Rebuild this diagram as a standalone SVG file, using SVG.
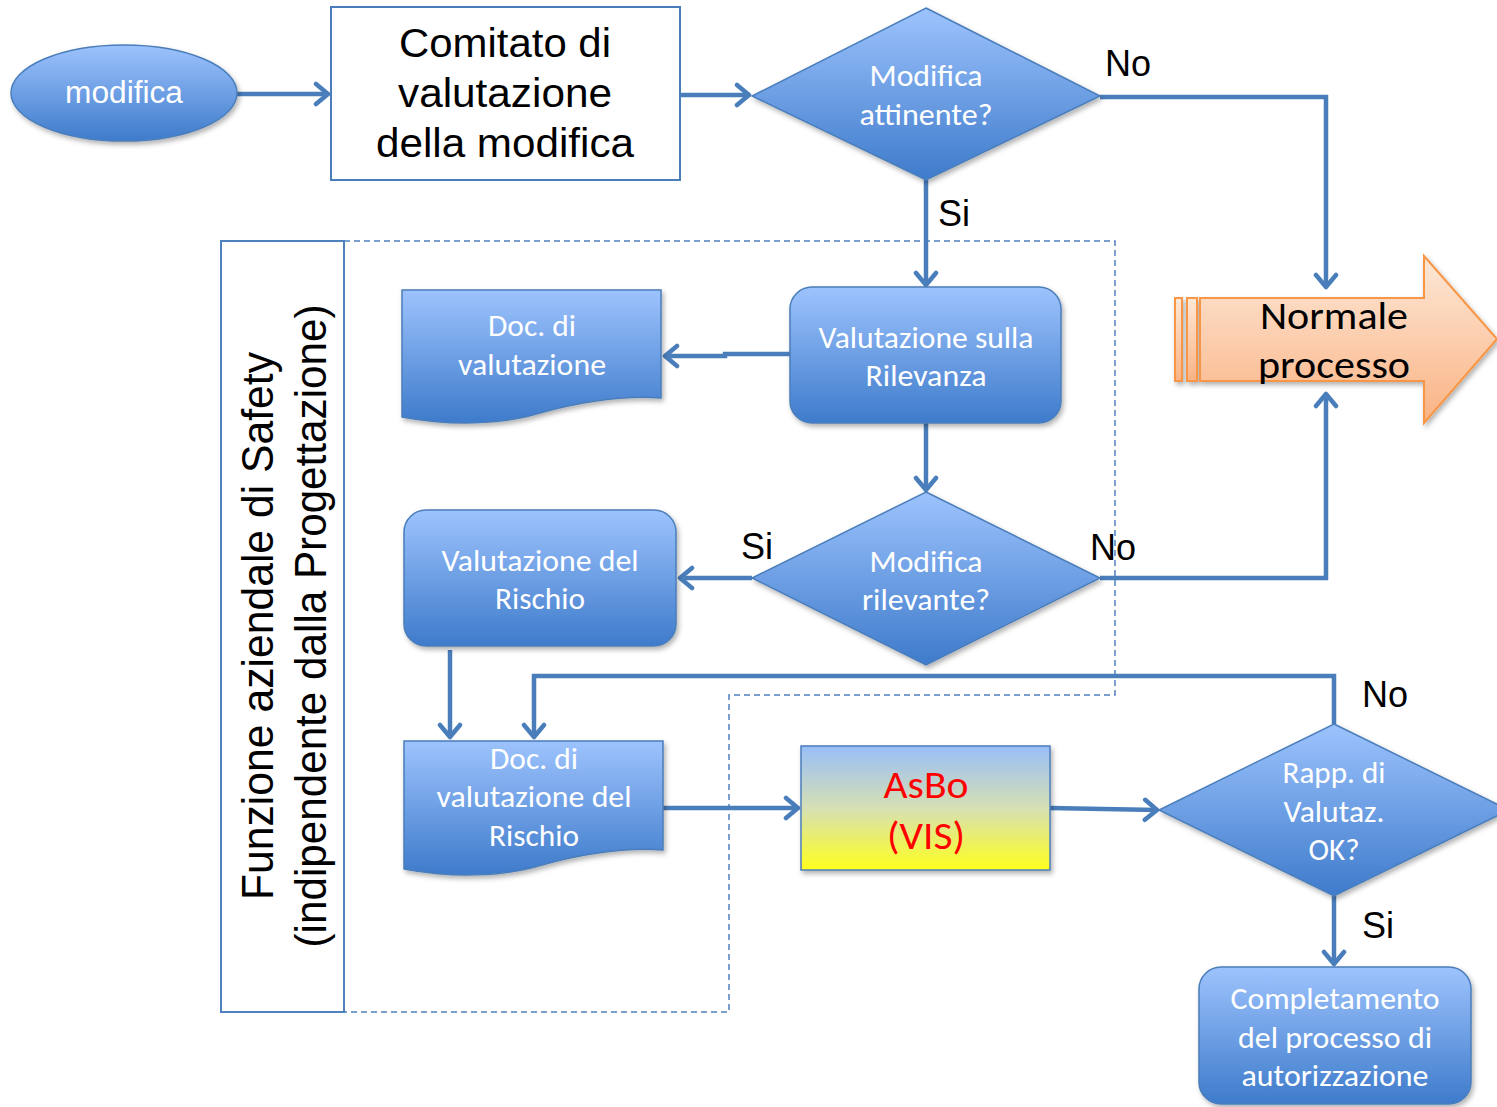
<svg xmlns="http://www.w3.org/2000/svg" width="1497" height="1107" viewBox="0 0 1497 1107">
<defs>
  <linearGradient id="blue" x1="0" y1="0" x2="0" y2="1">
    <stop offset="0" stop-color="#9dc3fd"/>
    <stop offset="1" stop-color="#3e7bcb"/>
  </linearGradient>
  <linearGradient id="asbo" x1="0" y1="0" x2="0" y2="1">
    <stop offset="0" stop-color="#98bef8"/>
    <stop offset="0.5" stop-color="#d6e0b4"/>
    <stop offset="1" stop-color="#ffff1e"/>
  </linearGradient>
  <linearGradient id="orange" x1="0" y1="0" x2="0" y2="1">
    <stop offset="0" stop-color="#fde8d7"/>
    <stop offset="1" stop-color="#fab384"/>
  </linearGradient>
  <filter id="sh" x="-10%" y="-10%" width="130%" height="130%">
    <feDropShadow dx="2" dy="3" stdDeviation="2.5" flood-color="#000" flood-opacity="0.3"/>
  </filter>
  <marker id="arr" viewBox="-16 -13 20 26" refX="0" refY="0" markerWidth="20" markerHeight="26" markerUnits="userSpaceOnUse" orient="auto">
    <path d="M-12,-10 L0,0 L-12,10" fill="none" stroke="#4a7ebb" stroke-width="4.5" stroke-linecap="round" stroke-linejoin="round"/>
  </marker>
</defs>
<style>
  .node { fill: url(#blue); stroke: #4a7ebb; stroke-width: 1.5; filter: url(#sh); }
  .wt { font-family: Carlito, Lato, "Open Sans", sans-serif; font-size: 30px; fill: #ffffff; text-anchor: middle; }
  .big { font-size: 39px; }
  .blk { fill: #000000; }
  .red { fill: #ff0000; }
  .bk { font-family: "Liberation Sans", Arial, sans-serif; fill: #000000; text-anchor: middle; }
  .lbl { font-family: "Liberation Sans", Arial, sans-serif; font-size: 36px; fill: #000000; text-anchor: middle; }
  .conn { fill: none; stroke: #4a7ebb; stroke-width: 4.5; marker-end: url(#arr); }
</style>

<g id="safety-region">
  <path d="M344,241 H1115 V695 H729 V1012 H344" fill="none" stroke="#4f81bd" stroke-width="1.5" stroke-dasharray="6 4"/>
  <rect x="221" y="241" width="123" height="771" fill="#ffffff" stroke="#4f81bd" stroke-width="2"/>
  <text class="bk" font-size="44" transform="translate(273,626) rotate(-90)" textLength="548" lengthAdjust="spacingAndGlyphs">Funzione aziendale di Safety</text>
  <text class="bk" font-size="44" transform="translate(326,626) rotate(-90)" textLength="643" lengthAdjust="spacingAndGlyphs">(indipendente dalla Progettazione)</text>
</g>

<g id="connectors">
  <path class="conn" d="M237,94 H328"/>
  <path class="conn" d="M680,95 H749"/>
  <path class="conn" d="M926,180 V285"/>
  <path class="conn" d="M1100,97 H1326 V287"/>
  <path class="conn" d="M790,354 H725 V356 H665"/>
  <path class="conn" d="M926,423 V490"/>
  <path class="conn" d="M752,578 H680"/>
  <path class="conn" d="M1100,578 H1326 V394"/>
  <path class="conn" d="M450,650 V737"/>
  <path class="conn" d="M1334,724 V676 H534 V737"/>
  <path class="conn" d="M663,808 H798"/>
  <path class="conn" d="M1050,808 L1157,810"/>
  <path class="conn" d="M1334,896 V964"/>
</g>

<g id="lbl-no1"><text class="lbl" x="1128" y="76">No</text></g>
<g id="lbl-si1"><text class="lbl" x="954" y="226">Si</text></g>
<g id="lbl-si2"><text class="lbl" x="757" y="559">Si</text></g>
<g id="lbl-no2"><text class="lbl" x="1113" y="560">No</text></g>
<g id="lbl-no3"><text class="lbl" x="1385" y="707">No</text></g>
<g id="lbl-si3"><text class="lbl" x="1378" y="938">Si</text></g>

<g id="modifica">
  <ellipse class="node" cx="124" cy="93" rx="113" ry="48"/>
  <text class="bk" x="124" y="103" font-size="31" style="fill:#ffffff" textLength="118" lengthAdjust="spacingAndGlyphs">modifica</text>
</g>

<g id="comitato">
  <rect x="331" y="7" width="349" height="173" fill="#ffffff" stroke="#4a7ebb" stroke-width="2"/>
  <text class="bk" font-size="40" x="505" y="57" textLength="212" lengthAdjust="spacingAndGlyphs">Comitato di</text>
  <text class="bk" font-size="40" x="505" y="107" textLength="214" lengthAdjust="spacingAndGlyphs">valutazione</text>
  <text class="bk" font-size="40" x="505" y="157" textLength="258" lengthAdjust="spacingAndGlyphs">della modifica</text>
</g>

<g id="d-attinente">
  <polygon class="node" points="926,8 1100,96 926,180 752,96"/>
  <text class="wt" x="926" y="86" textLength="113" lengthAdjust="spacingAndGlyphs">Modifica</text>
  <text class="wt" x="926" y="125" textLength="133" lengthAdjust="spacingAndGlyphs">attinente?</text>
</g>

<g id="normale-processo">
  <g filter="url(#sh)">
    <rect x="1175" y="298" width="7" height="83" fill="url(#orange)" stroke="#f79646" stroke-width="2"/>
    <rect x="1187" y="298" width="10" height="83" fill="url(#orange)" stroke="#f79646" stroke-width="2"/>
    <path d="M1200,298 H1424 V256 L1497,339 L1424,423 V381 H1200 Z" fill="url(#orange)" stroke="#f79646" stroke-width="2"/>
  </g>
  <text class="wt big blk" x="1334" y="329" textLength="148" lengthAdjust="spacingAndGlyphs">Normale</text>
  <text class="wt big blk" x="1334" y="378" textLength="152" lengthAdjust="spacingAndGlyphs">processo</text>
</g>

<g id="doc-valutazione">
  <path class="node" d="M402,290 H661 V398 C620,395 580,402 540,413 C500,425 450,426 402,417 Z"/>
  <text class="wt" x="532" y="336" textLength="88" lengthAdjust="spacingAndGlyphs">Doc. di</text>
  <text class="wt" x="532" y="375" textLength="148" lengthAdjust="spacingAndGlyphs">valutazione</text>
</g>

<g id="val-rilevanza">
  <rect class="node" x="790" y="287" width="271" height="136" rx="22"/>
  <text class="wt" x="926" y="348" textLength="215" lengthAdjust="spacingAndGlyphs">Valutazione sulla</text>
  <text class="wt" x="926" y="386" textLength="121" lengthAdjust="spacingAndGlyphs">Rilevanza</text>
</g>

<g id="d-rilevante">
  <polygon class="node" points="926,492 1100,578 926,665 752,578"/>
  <text class="wt" x="926" y="572" textLength="113" lengthAdjust="spacingAndGlyphs">Modifica</text>
  <text class="wt" x="926" y="610" textLength="128" lengthAdjust="spacingAndGlyphs">rilevante?</text>
</g>

<g id="val-rischio">
  <rect class="node" x="404" y="510" width="272" height="136" rx="22"/>
  <text class="wt" x="540" y="571" textLength="197" lengthAdjust="spacingAndGlyphs">Valutazione del</text>
  <text class="wt" x="540" y="609" textLength="90" lengthAdjust="spacingAndGlyphs">Rischio</text>
</g>

<g id="doc-rischio">
  <path class="node" d="M404,741 H663 V850 C622,847 582,854 542,865 C502,877 452,878 404,869 Z"/>
  <text class="wt" x="534" y="769" textLength="88" lengthAdjust="spacingAndGlyphs">Doc. di</text>
  <text class="wt" x="534" y="807" textLength="195" lengthAdjust="spacingAndGlyphs">valutazione del</text>
  <text class="wt" x="534" y="846" textLength="90" lengthAdjust="spacingAndGlyphs">Rischio</text>
</g>

<g id="asbo">
  <rect x="801" y="746" width="249" height="124" fill="url(#asbo)" stroke="#4a7ebb" stroke-width="1.5" filter="url(#sh)"/>
  <text class="wt big red" x="926" y="798" textLength="85" lengthAdjust="spacingAndGlyphs">AsBo</text>
  <text class="wt big red" x="926" y="849" textLength="78" lengthAdjust="spacingAndGlyphs">(VIS)</text>
</g>

<g id="d-rapporto">
  <polygon class="node" points="1334,724 1509,810 1334,896 1159,810"/>
  <text class="wt" x="1334" y="783" textLength="103" lengthAdjust="spacingAndGlyphs">Rapp. di</text>
  <text class="wt" x="1334" y="822" textLength="101" lengthAdjust="spacingAndGlyphs">Valutaz.</text>
  <text class="wt" x="1334" y="860" textLength="51" lengthAdjust="spacingAndGlyphs">OK?</text>
</g>

<g id="completamento">
  <rect class="node" x="1199" y="967" width="272" height="137" rx="22"/>
  <text class="wt" x="1335" y="1009" textLength="209" lengthAdjust="spacingAndGlyphs">Completamento</text>
  <text class="wt" x="1335" y="1048" textLength="194" lengthAdjust="spacingAndGlyphs">del processo di</text>
  <text class="wt" x="1335" y="1086" textLength="187" lengthAdjust="spacingAndGlyphs">autorizzazione</text>
</g>
</svg>
